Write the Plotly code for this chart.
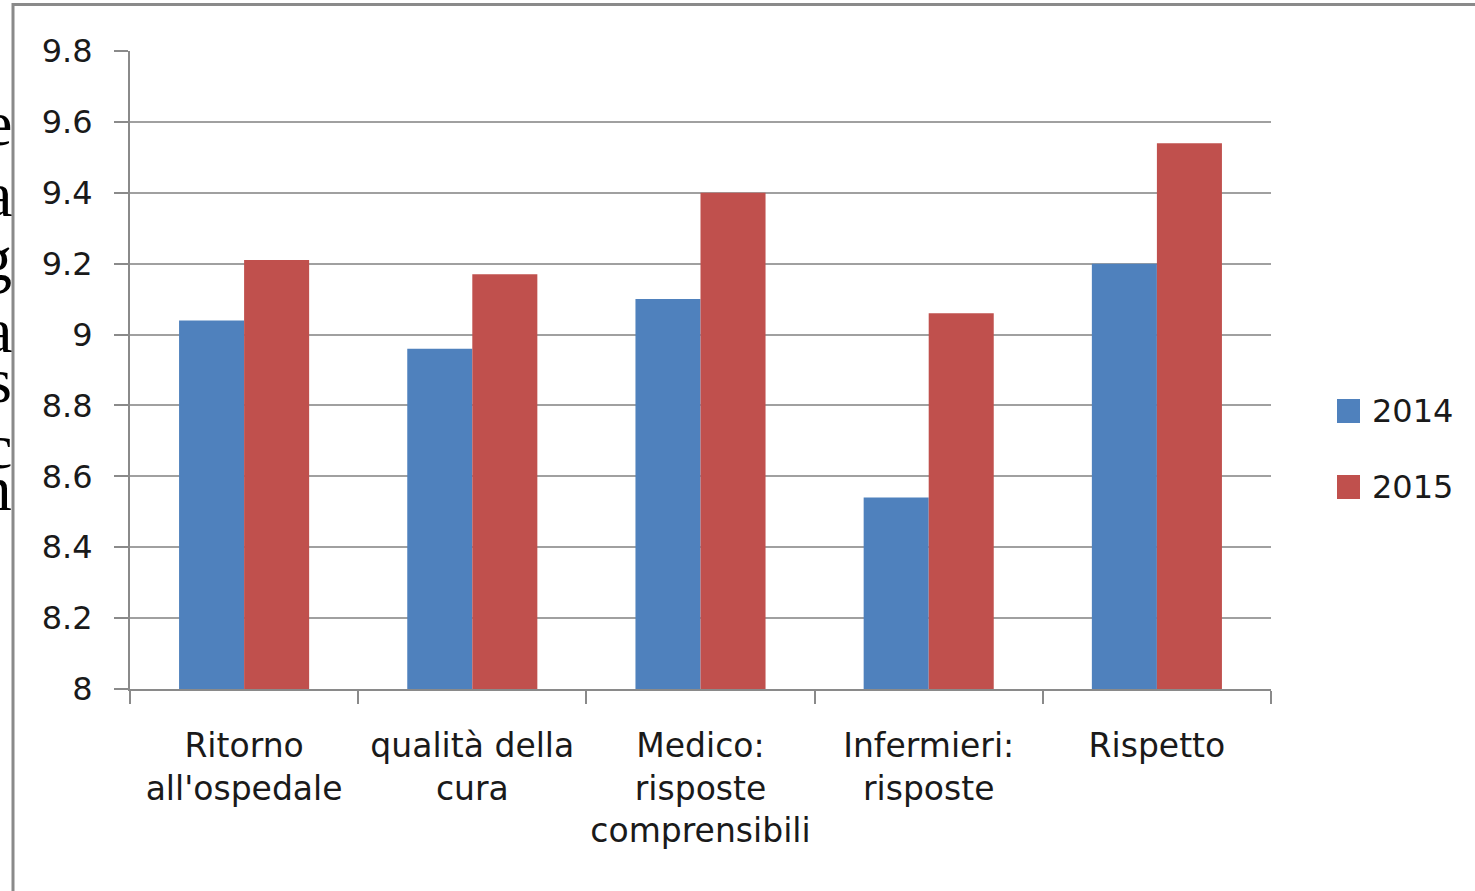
import plotly.graph_objects as go

# Survey scores by area, two years
categories = ["Ritorno<br>all'ospedale", "qualità della<br>cura", "Medico:<br>risposte<br>comprensibili",
              "Infermieri:<br>risposte", "Rispetto"]
years = ["2014", "2015"]
scores_2014 = [9.04, 8.96, 9.10, 8.54, 9.20]
scores_2015 = [9.21, 9.17, 9.40, 9.06, 9.54]
y_ticks = [8, 8.2, 8.4, 8.6, 8.8, 9, 9.2, 9.4, 9.6, 9.8]
y_tick_labels = ["8", "8.2", "8.4", "8.6", "8.8", "9", "9.2", "9.4", "9.6", "9.8"]

# Fragments of surrounding page text at the far left edge
side_letters = ["e", "a", "g", "a", "s", "c", "m"]
side_letter_rows = [124, 194, 258, 330, 380, 446, 488]

COLORS = ["#4F81BD", "#C0504D"]
FONT = "DejaVu Sans"
W, H = 1475, 891
ML, MR, MT, MB = 130, 204, 51, 202
PW, PH = W - ML - MR, H - MT - MB


def px(x):
    return (x - ML) / PW


def py(y):
    return (H - MB - y) / PH


fig = go.Figure()
for name, vals, col in zip(years, [scores_2014, scores_2015], COLORS):
    fig.add_trace(go.Bar(x=categories, y=vals, name=name, marker_color=col,
                         marker_line_width=0, showlegend=False))

shapes = [
    # outer frame (top and left)
    dict(type="line", xref="paper", yref="paper", x0=px(12), x1=px(W + 5), y0=py(4.5), y1=py(4.5),
         line=dict(color="#8a8a8a", width=3)),
    dict(type="line", xref="paper", yref="paper", x0=px(13), x1=px(13), y0=py(3), y1=py(H + 5),
         line=dict(color="#8a8a8a", width=3)),
]
annotations = []

# legend drawn as swatches + labels
legend_rows = [411, 487]
for name, col, yc in zip(years, COLORS, legend_rows):
    shapes.append(dict(type="rect", xref="paper", yref="paper", x0=px(1337), x1=px(1360),
                       y0=py(yc - 12), y1=py(yc + 12), fillcolor=col, line=dict(width=0)))
    annotations.append(dict(xref="paper", yref="paper", x=px(1370), y=py(yc), text=name,
                            xanchor="left", yanchor="middle", showarrow=False,
                            font=dict(family=FONT, size=32, color="#1a1a1a")))

for ch, yc in zip(side_letters, side_letter_rows):
    annotations.append(dict(xref="paper", yref="paper", x=px(14), y=py(yc), text=ch,
                            xanchor="right", yanchor="middle", showarrow=False,
                            font=dict(family="Liberation Serif", size=64, color="#000000")))

fig.update_layout(
    width=W, height=H,
    margin=dict(l=ML, r=MR, t=MT, b=MB, pad=0, autoexpand=False),
    paper_bgcolor="white", plot_bgcolor="white",
    barmode="group", bargap=0.43, bargroupgap=0,
    font=dict(family=FONT, size=32, color="#1a1a1a"),
    shapes=shapes, annotations=annotations,
    xaxis=dict(showline=True, linecolor="#8a8a8a", linewidth=2, ticks="outside",
               tickson="boundaries", ticklen=13, tickwidth=2, tickcolor="#8a8a8a",
               tickfont=dict(size=33), tickangle=0, automargin=False,
               ticklabelstandoff=26, showgrid=False),
    yaxis=dict(range=[8, 9.8], tickvals=y_ticks, ticktext=y_tick_labels,
               showline=True, linecolor="#8a8a8a", linewidth=2, ticks="outside",
               ticklen=14, tickwidth=2, tickcolor="#8a8a8a", ticklabelstandoff=15,
               showgrid=True, gridcolor="#a0a0a0", gridwidth=2, zeroline=False,
               automargin=False, tickfont=dict(size=32)),
)

fig.write_html("out.html")
